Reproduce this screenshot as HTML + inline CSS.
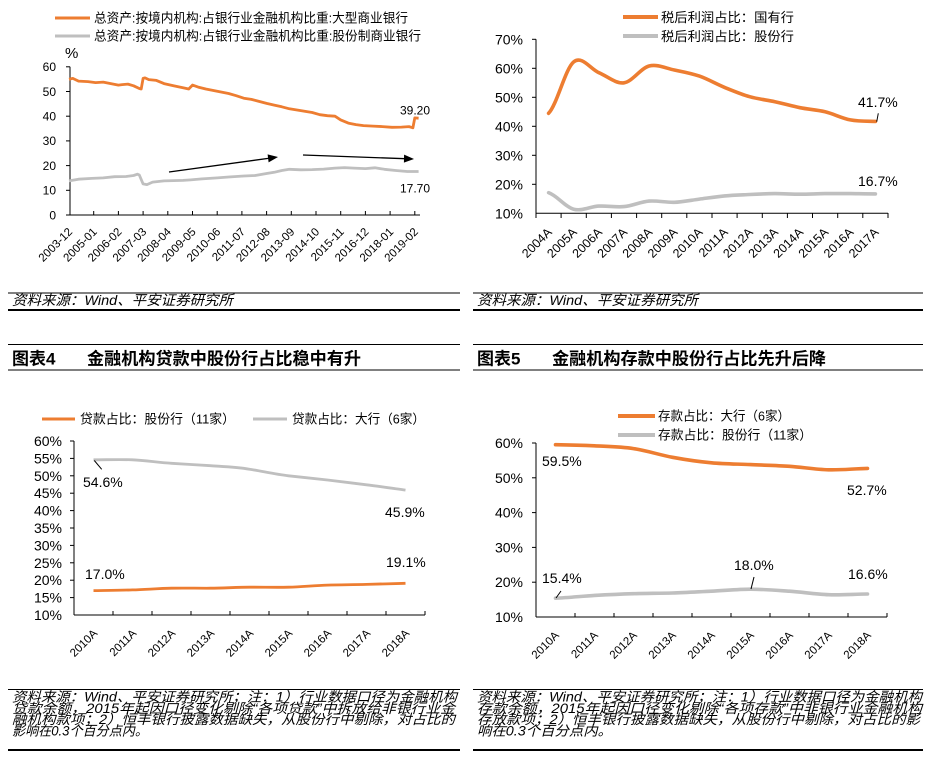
<!DOCTYPE html>
<html><head><meta charset="utf-8"><style>
html,body{margin:0;padding:0;background:#fff;}
svg{display:block;}
text{font-family:"Liberation Sans","Noto Sans CJK SC",sans-serif;fill:#000;}
.it{font-style:italic;}
</style></head><body>
<svg width="929" height="757" viewBox="0 0 929 757" xmlns="http://www.w3.org/2000/svg">
<rect width="929" height="757" fill="#fff"/>

<!-- ================= CHART 1 ================= -->
<line x1="55" y1="18" x2="90" y2="18" stroke="#ED7D31" stroke-width="3"/>
<text x="94" y="22.5" font-size="13" textLength="314" lengthAdjust="spacingAndGlyphs">总资产:按境内机构:占银行业金融机构比重:大型商业银行</text>
<line x1="55" y1="36" x2="90" y2="36" stroke="#BFBFBF" stroke-width="3"/>
<text x="94" y="40.5" font-size="13" textLength="327" lengthAdjust="spacingAndGlyphs">总资产:按境内机构:占银行业金融机构比重:股份制商业银行</text>
<text x="65" y="58" font-size="15">%</text>
<g font-size="12" text-anchor="end">
<text x="56" y="219.3">0</text>
<text x="56" y="194.6">10</text>
<text x="56" y="169.9">20</text>
<text x="56" y="145.2">30</text>
<text x="56" y="120.5">40</text>
<text x="56" y="95.8">50</text>
<text x="56" y="71.1">60</text>
</g>
<g stroke="#000" stroke-width="1">
<line x1="70" y1="66.8" x2="70" y2="215"/>
<line x1="70" y1="215" x2="420" y2="215"/>
<line x1="66" y1="66.8" x2="70" y2="66.8"/><line x1="66" y1="91.5" x2="70" y2="91.5"/><line x1="66" y1="116.2" x2="70" y2="116.2"/><line x1="66" y1="140.9" x2="70" y2="140.9"/><line x1="66" y1="165.6" x2="70" y2="165.6"/><line x1="66" y1="190.3" x2="70" y2="190.3"/><line x1="66" y1="215" x2="70" y2="215"/>
<line x1="93.7" y1="211" x2="93.7" y2="215"/><line x1="118.4" y1="211" x2="118.4" y2="215"/><line x1="143.1" y1="211" x2="143.1" y2="215"/><line x1="167.8" y1="211" x2="167.8" y2="215"/><line x1="192.5" y1="211" x2="192.5" y2="215"/><line x1="217.2" y1="211" x2="217.2" y2="215"/><line x1="241.9" y1="211" x2="241.9" y2="215"/><line x1="266.6" y1="211" x2="266.6" y2="215"/><line x1="291.3" y1="211" x2="291.3" y2="215"/><line x1="316" y1="211" x2="316" y2="215"/><line x1="340.7" y1="211" x2="340.7" y2="215"/><line x1="365.4" y1="211" x2="365.4" y2="215"/><line x1="390.1" y1="211" x2="390.1" y2="215"/><line x1="414.8" y1="211" x2="414.8" y2="215"/>
</g>
<g font-size="11.5" text-anchor="end">
<text transform="translate(73,232.5) rotate(-45)">2003-12</text>
<text transform="translate(97.7,232.5) rotate(-45)">2005-01</text>
<text transform="translate(122.4,232.5) rotate(-45)">2006-02</text>
<text transform="translate(147.1,232.5) rotate(-45)">2007-03</text>
<text transform="translate(171.8,232.5) rotate(-45)">2008-04</text>
<text transform="translate(196.5,232.5) rotate(-45)">2009-05</text>
<text transform="translate(221.2,232.5) rotate(-45)">2010-06</text>
<text transform="translate(245.9,232.5) rotate(-45)">2011-07</text>
<text transform="translate(270.6,232.5) rotate(-45)">2012-08</text>
<text transform="translate(295.3,232.5) rotate(-45)">2013-09</text>
<text transform="translate(320,232.5) rotate(-45)">2014-10</text>
<text transform="translate(344.7,232.5) rotate(-45)">2015-11</text>
<text transform="translate(369.4,232.5) rotate(-45)">2016-12</text>
<text transform="translate(394.1,232.5) rotate(-45)">2018-01</text>
<text transform="translate(418.8,232.5) rotate(-45)">2019-02</text>
</g>
<polyline fill="none" stroke="#ED7D31" stroke-width="2.8" stroke-linejoin="round" points="69,79.2 72.8,78.4 78.5,81.1 88,81.6 95.6,82.6 103.2,82.1 110.8,83.6 118.4,85.1 122.2,84.6 127.9,84.1 133.6,85.8 139.3,88.5 141.2,89 143.1,78.4 145,77.9 148.8,79.6 156.4,80.4 164,83.6 173.5,85.8 183,87.8 188.7,89 192.5,85.1 198.2,87.1 205.8,89 213.4,90.5 221,92 228.6,93.5 236.2,95.7 243.8,98.2 251.4,99.4 259,101.4 266.6,103.4 274.2,105.1 281.8,106.8 289.4,108.8 297,110 304.6,111.3 312.2,112.5 319.8,114.7 327.4,115.7 335,116.2 340.7,119.9 348.3,123.1 355.9,124.6 363.5,125.6 373,126.1 382.5,126.6 392,127.3 401.5,127.1 409,126.6 412.9,127.8 414.8,117.9 418.6,118.2"/>
<polyline fill="none" stroke="#BFBFBF" stroke-width="2.8" stroke-linejoin="round" points="69,180.9 78.5,179.2 91.8,178.4 103.2,177.9 114.6,176.7 126,176.5 133.6,175.5 137.4,174.2 139.3,175 143.1,183.9 146.9,184.6 152.6,182.1 164,180.9 183,180.4 190.6,179.9 202,178.9 217.2,177.9 228.6,177 243.8,176 255.2,175.5 266.6,173.5 274.2,172.3 281.8,170.5 289.4,169.3 300.8,169.8 312.2,169.6 323.6,169.1 335,168.1 344.5,167.6 354,168.1 365.4,168.6 374.9,167.8 384.4,169.3 395.8,170.5 407.2,171.5 418.6,171.5"/>
<line x1="169" y1="172" x2="270" y2="158.1" stroke="#000" stroke-width="1.3"/>
<polygon points="278,157 268.6,162.4 267.6,154.4" fill="#000"/>
<line x1="303" y1="155" x2="405" y2="158.7" stroke="#000" stroke-width="1.3"/>
<polygon points="414,159 403.9,162.6 404.1,154.6" fill="#000"/>
<text x="400" y="114.3" font-size="12">39.20</text>
<text x="400" y="192.3" font-size="12">17.70</text>
<line x1="8" y1="293" x2="460" y2="293" stroke="#000" stroke-width="1"/>
<text class="it" x="12" y="305" font-size="14" textLength="221" lengthAdjust="spacingAndGlyphs">资料来源：Wind、平安证券研究所</text>
<line x1="8" y1="310" x2="460" y2="310" stroke="#000" stroke-width="2"/>

<!-- ================= CHART 2 ================= -->
<line x1="623" y1="17" x2="658" y2="17" stroke="#ED7D31" stroke-width="4"/>
<text x="661" y="22" font-size="13" textLength="133" lengthAdjust="spacingAndGlyphs">税后利润占比：国有行</text>
<line x1="623" y1="36" x2="658" y2="36" stroke="#BFBFBF" stroke-width="4"/>
<text x="661" y="41" font-size="13" textLength="133" lengthAdjust="spacingAndGlyphs">税后利润占比：股份行</text>
<g font-size="14" text-anchor="end">
<text x="523" y="218.3">10%</text>
<text x="523" y="189.3">20%</text>
<text x="523" y="160.3">30%</text>
<text x="523" y="131.3">40%</text>
<text x="523" y="102.3">50%</text>
<text x="523" y="73.3">60%</text>
<text x="523" y="44.3">70%</text>
</g>
<g stroke="#000" stroke-width="1">
<line x1="536" y1="39.3" x2="536" y2="213.3"/>
<line x1="536" y1="213.3" x2="888" y2="213.3"/>
<line x1="532" y1="39.3" x2="536" y2="39.3"/><line x1="532" y1="68.3" x2="536" y2="68.3"/><line x1="532" y1="97.3" x2="536" y2="97.3"/><line x1="532" y1="126.3" x2="536" y2="126.3"/><line x1="532" y1="155.3" x2="536" y2="155.3"/><line x1="532" y1="184.3" x2="536" y2="184.3"/>
<line x1="536" y1="213" x2="536" y2="218"/><line x1="561.1" y1="213" x2="561.1" y2="218"/><line x1="586.3" y1="213" x2="586.3" y2="218"/><line x1="611.4" y1="213" x2="611.4" y2="218"/><line x1="636.6" y1="213" x2="636.6" y2="218"/><line x1="661.7" y1="213" x2="661.7" y2="218"/><line x1="686.8" y1="213" x2="686.8" y2="218"/><line x1="712" y1="213" x2="712" y2="218"/><line x1="737.1" y1="213" x2="737.1" y2="218"/><line x1="762.3" y1="213" x2="762.3" y2="218"/><line x1="787.4" y1="213" x2="787.4" y2="218"/><line x1="812.5" y1="213" x2="812.5" y2="218"/><line x1="837.7" y1="213" x2="837.7" y2="218"/><line x1="862.8" y1="213" x2="862.8" y2="218"/><line x1="888" y1="213" x2="888" y2="218"/>
</g>
<g font-size="12.5" text-anchor="end">
<text transform="translate(552.6,233) rotate(-45)">2004A</text>
<text transform="translate(577.7,233) rotate(-45)">2005A</text>
<text transform="translate(602.9,233) rotate(-45)">2006A</text>
<text transform="translate(628,233) rotate(-45)">2007A</text>
<text transform="translate(653.1,233) rotate(-45)">2008A</text>
<text transform="translate(678.3,233) rotate(-45)">2009A</text>
<text transform="translate(703.4,233) rotate(-45)">2010A</text>
<text transform="translate(728.6,233) rotate(-45)">2011A</text>
<text transform="translate(753.7,233) rotate(-45)">2012A</text>
<text transform="translate(778.9,233) rotate(-45)">2013A</text>
<text transform="translate(804,233) rotate(-45)">2014A</text>
<text transform="translate(829.1,233) rotate(-45)">2015A</text>
<text transform="translate(854.3,233) rotate(-45)">2016A</text>
<text transform="translate(879.4,233) rotate(-45)">2017A</text>
</g>
<path fill="none" stroke="#ED7D31" stroke-width="3.6" stroke-linecap="round" d="M548.6,113.3 C557.0,104.7 565.3,68.7 573.7,61.9 C582.1,55.1 590.5,69.2 598.9,72.7 C607.3,76.2 615.6,83.9 624.0,82.8 C632.4,81.7 640.7,68.1 649.1,66.0 C657.5,63.9 665.9,68.3 674.3,70.0 C682.7,71.7 691.0,73.2 699.4,76.1 C707.8,79.0 716.2,84.0 724.6,87.4 C733.0,90.8 741.3,94.3 749.7,96.7 C758.1,99.1 766.5,99.9 774.9,101.7 C783.3,103.5 791.6,106.0 800.0,107.7 C808.4,109.4 816.7,109.8 825.1,111.8 C833.5,113.8 841.9,118.3 850.3,119.9 C858.7,121.5 867.0,121.2 875.4,121.4"/>
<path fill="none" stroke="#BFBFBF" stroke-width="3.6" stroke-linecap="round" d="M548.6,192.7 C557.0,195.5 565.3,207.0 573.7,209.2 C582.1,211.4 590.5,206.5 598.9,206.1 C607.3,205.6 615.6,207.4 624.0,206.6 C632.4,205.8 640.7,201.8 649.1,201.1 C657.5,200.4 665.9,202.6 674.3,202.3 C682.7,202.0 691.0,200.2 699.4,199.1 C707.8,198.0 716.2,196.7 724.6,195.9 C733.0,195.1 741.3,194.9 749.7,194.5 C758.1,194.1 766.5,193.7 774.9,193.6 C783.3,193.6 791.6,194.2 800.0,194.2 C808.4,194.2 816.7,193.7 825.1,193.6 C833.5,193.5 841.9,193.6 850.3,193.6 C858.7,193.7 867.0,193.9 875.4,193.9"/>
<line x1="878.3" y1="113.3" x2="876.7" y2="121.7" stroke="#000" stroke-width="1"/>
<text x="858" y="107" font-size="14">41.7%</text>
<text x="858" y="186" font-size="14">16.7%</text>
<line x1="473" y1="293" x2="923" y2="293" stroke="#000" stroke-width="1"/>
<text class="it" x="477" y="305" font-size="14" textLength="221" lengthAdjust="spacingAndGlyphs">资料来源：Wind、平安证券研究所</text>
<line x1="473" y1="310" x2="923" y2="310" stroke="#000" stroke-width="2"/>

<!-- ================= CHART 3 ================= -->
<line x1="8" y1="344.5" x2="460" y2="344.5" stroke="#000" stroke-width="1"/>
<text x="12" y="364.5" font-size="17" font-weight="bold">图表4</text>
<text x="87" y="364.5" font-size="17" font-weight="bold" textLength="274" lengthAdjust="spacingAndGlyphs">金融机构贷款中股份行占比稳中有升</text>
<line x1="8" y1="370" x2="460" y2="370" stroke="#000" stroke-width="1"/>
<line x1="42" y1="419" x2="75" y2="419" stroke="#ED7D31" stroke-width="3"/>
<text x="80" y="423.5" font-size="13" textLength="155" lengthAdjust="spacingAndGlyphs">贷款占比：股份行（11家）</text>
<line x1="253" y1="419" x2="287" y2="419" stroke="#BFBFBF" stroke-width="3"/>
<text x="292" y="423.5" font-size="13" textLength="133" lengthAdjust="spacingAndGlyphs">贷款占比：大行（6家）</text>
<g font-size="14" text-anchor="end">
<text x="62" y="620">10%</text>
<text x="62" y="602.6">15%</text>
<text x="62" y="585.2">20%</text>
<text x="62" y="567.8">25%</text>
<text x="62" y="550.4">30%</text>
<text x="62" y="533">35%</text>
<text x="62" y="515.6">40%</text>
<text x="62" y="498.2">45%</text>
<text x="62" y="480.8">50%</text>
<text x="62" y="463.4">55%</text>
<text x="62" y="446">60%</text>
</g>
<g stroke="#000" stroke-width="1">
<line x1="74" y1="441" x2="74" y2="615"/>
<line x1="74" y1="615" x2="425" y2="615"/>
<line x1="70" y1="441" x2="74" y2="441"/><line x1="70" y1="458.4" x2="74" y2="458.4"/><line x1="70" y1="475.8" x2="74" y2="475.8"/><line x1="70" y1="493.2" x2="74" y2="493.2"/><line x1="70" y1="510.6" x2="74" y2="510.6"/><line x1="70" y1="528" x2="74" y2="528"/><line x1="70" y1="545.4" x2="74" y2="545.4"/><line x1="70" y1="562.8" x2="74" y2="562.8"/><line x1="70" y1="580.2" x2="74" y2="580.2"/><line x1="70" y1="597.6" x2="74" y2="597.6"/>
<line x1="113" y1="611" x2="113" y2="615"/><line x1="152" y1="611" x2="152" y2="615"/><line x1="191" y1="611" x2="191" y2="615"/><line x1="230" y1="611" x2="230" y2="615"/><line x1="269" y1="611" x2="269" y2="615"/><line x1="308" y1="611" x2="308" y2="615"/><line x1="347" y1="611" x2="347" y2="615"/><line x1="386" y1="611" x2="386" y2="615"/><line x1="425" y1="611" x2="425" y2="615"/>
</g>
<g font-size="11.5" text-anchor="end">
<text transform="translate(98,634) rotate(-45)">2010A</text>
<text transform="translate(137,634) rotate(-45)">2011A</text>
<text transform="translate(176,634) rotate(-45)">2012A</text>
<text transform="translate(215,634) rotate(-45)">2013A</text>
<text transform="translate(254,634) rotate(-45)">2014A</text>
<text transform="translate(293,634) rotate(-45)">2015A</text>
<text transform="translate(332,634) rotate(-45)">2016A</text>
<text transform="translate(371,634) rotate(-45)">2017A</text>
<text transform="translate(410,634) rotate(-45)">2018A</text>
</g>
<path fill="none" stroke="#BFBFBF" stroke-width="2.8" d="M93.5,459.8 C106.5,459.8 119.5,459.3 132.5,459.8 C145.5,460.4 158.5,462.5 171.5,463.3 C184.5,464.2 197.5,464.8 210.5,465.7 C223.5,466.6 236.5,467.1 249.5,469.2 C262.5,471.3 275.5,474.4 288.5,475.8 C301.5,477.2 314.5,478.5 327.5,480.0 C340.5,481.5 353.5,483.2 366.5,484.8 C379.5,486.4 392.5,488.3 405.5,490.1"/>
<path fill="none" stroke="#ED7D31" stroke-width="2.8" d="M93.5,590.6 C106.5,590.4 119.5,590.3 132.5,589.9 C145.5,589.5 158.5,588.5 171.5,588.2 C184.5,587.9 197.5,588.3 210.5,588.2 C223.5,588.1 236.5,587.3 249.5,587.2 C262.5,587.1 275.5,587.5 288.5,587.2 C301.5,586.9 314.5,585.5 327.5,585.1 C340.5,584.7 353.5,584.8 366.5,584.4 C379.5,584.0 392.5,583.7 405.5,583.3"/>
<line x1="94.3" y1="460.5" x2="101.7" y2="469.3" stroke="#000" stroke-width="1"/>
<text x="83" y="487" font-size="14">54.6%</text>
<text x="385" y="517" font-size="14">45.9%</text>
<text x="386" y="567" font-size="14">19.1%</text>
<text x="85" y="579" font-size="14">17.0%</text>
<line x1="8" y1="689.5" x2="460" y2="689.5" stroke="#000" stroke-width="1"/>
<g font-size="13.5">
<text class="it" x="12" y="701.6" textLength="445" lengthAdjust="spacingAndGlyphs">资料来源：Wind、平安证券研究所；注：1）行业数据口径为金融机构</text>
<text class="it" x="12" y="712.9" textLength="443" lengthAdjust="spacingAndGlyphs">贷款余额，2015年起因口径变化剔除“各项贷款”中拆放给非银行业金</text>
<text class="it" x="12" y="724.1" textLength="443" lengthAdjust="spacingAndGlyphs">融机构款项；2）恒丰银行披露数据缺失，从股份行中剔除，对占比的</text>
<text class="it" x="12" y="735.6" textLength="136" lengthAdjust="spacingAndGlyphs">影响在0.3个百分点内。</text>
</g>
<line x1="8" y1="750" x2="460" y2="750" stroke="#000" stroke-width="2"/>

<!-- ================= CHART 4 ================= -->
<line x1="473" y1="344.5" x2="923" y2="344.5" stroke="#000" stroke-width="1"/>
<text x="477" y="364.5" font-size="17" font-weight="bold">图表5</text>
<text x="552" y="364.5" font-size="17" font-weight="bold" textLength="274" lengthAdjust="spacingAndGlyphs">金融机构存款中股份行占比先升后降</text>
<line x1="473" y1="370" x2="923" y2="370" stroke="#000" stroke-width="1"/>
<line x1="618" y1="416" x2="655" y2="416" stroke="#ED7D31" stroke-width="4"/>
<text x="658" y="420.5" font-size="13" textLength="132" lengthAdjust="spacingAndGlyphs">存款占比：大行（6家）</text>
<line x1="618" y1="435" x2="655" y2="435" stroke="#BFBFBF" stroke-width="4"/>
<text x="658" y="439.5" font-size="13" textLength="154" lengthAdjust="spacingAndGlyphs">存款占比：股份行（11家）</text>
<g font-size="14" text-anchor="end">
<text x="523" y="622">10%</text>
<text x="523" y="587.2">20%</text>
<text x="523" y="552.4">30%</text>
<text x="523" y="517.6">40%</text>
<text x="523" y="482.8">50%</text>
<text x="523" y="448">60%</text>
</g>
<g stroke="#000" stroke-width="1">
<line x1="536" y1="443" x2="536" y2="617"/>
<line x1="536" y1="617" x2="887" y2="617"/>
<line x1="532" y1="443" x2="536" y2="443"/><line x1="532" y1="477.8" x2="536" y2="477.8"/><line x1="532" y1="512.6" x2="536" y2="512.6"/><line x1="532" y1="547.4" x2="536" y2="547.4"/><line x1="532" y1="582.2" x2="536" y2="582.2"/>
<line x1="575" y1="613" x2="575" y2="617"/><line x1="614" y1="613" x2="614" y2="617"/><line x1="653" y1="613" x2="653" y2="617"/><line x1="692" y1="613" x2="692" y2="617"/><line x1="731" y1="613" x2="731" y2="617"/><line x1="770" y1="613" x2="770" y2="617"/><line x1="809" y1="613" x2="809" y2="617"/><line x1="848" y1="613" x2="848" y2="617"/><line x1="887" y1="613" x2="887" y2="617"/>
</g>
<g font-size="11.5" text-anchor="end">
<text transform="translate(559.7,636) rotate(-45)">2010A</text>
<text transform="translate(598.7,636) rotate(-45)">2011A</text>
<text transform="translate(637.7,636) rotate(-45)">2012A</text>
<text transform="translate(676.7,636) rotate(-45)">2013A</text>
<text transform="translate(715.7,636) rotate(-45)">2014A</text>
<text transform="translate(754.7,636) rotate(-45)">2015A</text>
<text transform="translate(793.7,636) rotate(-45)">2016A</text>
<text transform="translate(832.7,636) rotate(-45)">2017A</text>
<text transform="translate(871.7,636) rotate(-45)">2018A</text>
</g>
<path fill="none" stroke="#ED7D31" stroke-width="3.6" stroke-linecap="round" d="M555.5,444.7 C568.5,444.9 581.5,445.2 594.5,445.8 C607.5,446.5 620.5,446.7 633.5,448.6 C646.5,450.5 659.5,454.9 672.5,457.3 C685.5,459.7 698.5,461.6 711.5,462.8 C724.5,464.0 737.5,464.0 750.5,464.6 C763.5,465.2 776.5,465.4 789.5,466.3 C802.5,467.2 815.5,469.5 828.5,469.8 C841.5,470.2 854.5,468.6 867.5,468.4"/>
<path fill="none" stroke="#BFBFBF" stroke-width="3.6" stroke-linecap="round" d="M555.5,598.2 C568.5,597.7 581.5,596.2 594.5,595.4 C607.5,594.7 620.5,594.1 633.5,593.7 C646.5,593.3 659.5,593.4 672.5,593.0 C685.5,592.6 698.5,591.8 711.5,591.2 C724.5,590.6 737.5,589.2 750.5,589.2 C763.5,589.2 776.5,590.3 789.5,591.2 C802.5,592.1 815.5,594.2 828.5,594.7 C841.5,595.2 854.5,594.1 867.5,594.0"/>
<line x1="556" y1="598" x2="561" y2="591" stroke="#000" stroke-width="1"/>
<line x1="751" y1="589" x2="754" y2="577" stroke="#000" stroke-width="1"/>
<text x="542" y="466" font-size="14">59.5%</text>
<text x="847" y="495" font-size="14">52.7%</text>
<text x="542" y="583" font-size="14">15.4%</text>
<text x="734" y="570" font-size="14">18.0%</text>
<text x="848" y="579" font-size="14">16.6%</text>
<line x1="473" y1="689.5" x2="923" y2="689.5" stroke="#000" stroke-width="1"/>
<g font-size="13.5">
<text class="it" x="477" y="701.6" textLength="445" lengthAdjust="spacingAndGlyphs">资料来源：Wind、平安证券研究所；注：1）行业数据口径为金融机构</text>
<text class="it" x="477" y="712.9" textLength="445" lengthAdjust="spacingAndGlyphs">存款余额，2015年起因口径变化剔除“各项存款”中非银行业金融机构</text>
<text class="it" x="477" y="724.1" textLength="443" lengthAdjust="spacingAndGlyphs">存放款项；2）恒丰银行披露数据缺失，从股份行中剔除，对占比的影</text>
<text class="it" x="477" y="735.6" textLength="135" lengthAdjust="spacingAndGlyphs">响在0.3个百分点内。</text>
</g>
<line x1="473" y1="750" x2="923" y2="750" stroke="#000" stroke-width="2"/>
</svg>
</body></html>
